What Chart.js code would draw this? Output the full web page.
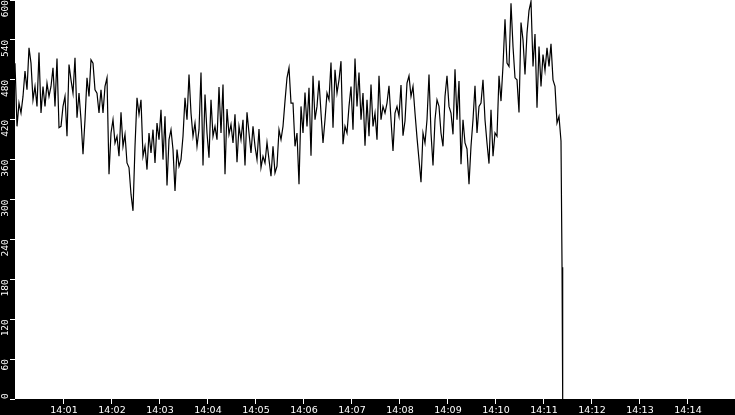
<!DOCTYPE html>
<html>
<head>
  <meta charset="UTF-8">
  <title>Rate 14:00 - 14:15</title>
  <script src="https://cdn.jsdelivr.net/npm/chart.js"></script>
  <style>
    html, body { margin: 0; padding: 0; background: #000; }
    #wrap { width: 735px; height: 415px; }
  </style>
</head>
<body>
  <div id="wrap"><canvas id="rateChart" width="735" height="415"></canvas></div>
  <script>
    // series: one sample every 2.5 s, starting 14:00:00
    const startHour = 14;
    const stepSeconds = 2.5;
    const rateValues = [
      505,410,445,430,455,493,465,528,505,450,
      470,440,521,430,470,440,475,455,470,498,
      440,512,408,410,440,455,395,503,480,460,
      513,423,460,420,368,420,483,455,510,505,
      465,460,430,465,430,470,483,338,400,420,
      385,395,365,431,380,398,355,348,308,283,
      380,453,428,450,365,380,345,400,370,405,
      355,415,390,435,360,425,321,390,405,375,
      313,375,350,360,395,453,420,488,430,395,
      415,380,405,
      491,351,458,400,363,450,395,410,390,469,
      400,473,338,436,398,413,385,428,356,410,
      390,420,351,431,400,370,410,380,360,406,
      348,365,355,386,360,335,380,340,350,405,
      390,410,448,483,498,445,
      445,380,400,323,440,400,461,410,468,366,
      486,420,440,479,430,385,420,460,450,506,
      408,495,460,480,508,383,410,400,440,470,
      405,512,440,491,420,460,381,450,395,473,
      410,430,390,486,420,440,430,445,
      471,420,373,430,440,425,472,396,418,475,
      486,455,470,430,393,360,326,400,385,420,
      488,400,351,420,450,440,400,380,455,486,
      440,430,398,496,420,478,353,420,385,376,
      323,380,420,471,400,440,445,
      480,420,385,354,435,365,400,395,486,448,
      501,571,505,500,595,530,483,480,431,566,
      540,488,550,584,598,500,549,438,530,470,
      518,494,528,500,534,480,470,415,425,388
    ];
    // the feed stops: last two readings, seconds after 14:00
    const tailSeconds = [683.8, 684.6];
    const tailValues = [198, 0];
    const xMinSeconds = 0;
    const xMaxSeconds = 900;
    const yTicks = [0, 60, 120, 180, 240, 300, 360, 420, 480, 540, 600];

    const points = rateValues.map((v, i) => ({ x: i * stepSeconds, y: v }))
      .concat(tailValues.map((v, i) => ({ x: tailSeconds[i], y: v })));

    function timeLabel(sec) {
      const m = Math.round(sec / 60);
      return startHour + ':' + String(m).padStart(2, '0');
    }

    // black frame, white plot, hand drawn tick labels
    const framePlugin = {
      id: 'frame',
      beforeDraw(chart) {
        const { ctx, chartArea: a } = chart;
        ctx.save();
        ctx.fillStyle = '#000';
        ctx.fillRect(0, 0, chart.width, chart.height);
        ctx.fillStyle = '#fff';
        ctx.fillRect(a.left, a.top, a.right - a.left, a.bottom - a.top);
        ctx.restore();
      },
      afterDraw(chart) {
        const { ctx, chartArea: a } = chart;
        const xs = chart.scales.x, ys = chart.scales.y;
        ctx.save();
        ctx.fillStyle = '#fff';
        ctx.font = '9.5px "DejaVu Sans"';
        ctx.textBaseline = 'middle';
        ctx.textAlign = 'center';
        xs.ticks.forEach(t => {
          ctx.fillText(timeLabel(t.value), xs.getPixelForValue(t.value) + 1, 410.5);
        });
        ctx.font = '9.5px "DejaVu Sans Mono"';
        ys.ticks.forEach(t => {
          const txt = String(t.value);
          const w = ctx.measureText(txt).width;
          let y = ys.getPixelForValue(t.value);
          // text runs upward and ends at its tick, kept inside the plot
          if (y + w > a.bottom) y = a.bottom - w;
          ctx.save();
          ctx.translate(5.5, y);
          ctx.rotate(-Math.PI / 2);
          ctx.textAlign = 'right';
          ctx.fillText(txt, 0, 0);
          ctx.restore();
        });
        ctx.restore();
      }
    };

    new Chart(document.getElementById('rateChart').getContext('2d'), {
      type: 'line',
      data: {
        datasets: [{
          data: points,
          borderColor: '#000',
          borderWidth: 1.2,
          pointRadius: 0,
          tension: 0,
          fill: false
        }]
      },
      options: {
        responsive: false,
        animation: false,
        layout: { padding: 0 },
        plugins: { legend: { display: false }, tooltip: { enabled: false } },
        scales: {
          x: {
            type: 'linear',
            min: xMinSeconds,
            max: xMaxSeconds,
            ticks: { display: false, stepSize: 60 },
            afterBuildTicks: s => { s.ticks = s.ticks.filter(t => t.value > xMinSeconds && t.value < xMaxSeconds); },
            afterFit: s => { s.height = 16; },
            grid: { drawOnChartArea: false, drawTicks: true, tickLength: 5, color: '#fff', lineWidth: 1 },
            border: { display: false }
          },
          y: {
            min: 0,
            max: 600,
            afterBuildTicks: s => { s.ticks = yTicks.map(v => ({ value: v })); },
            ticks: { display: false },
            afterFit: s => { s.width = 15; },
            grid: { drawOnChartArea: false, drawTicks: true, tickLength: 5, color: '#fff', lineWidth: 1 },
            border: { display: false }
          }
        }
      },
      plugins: [framePlugin]
    });
  </script>
</body>
</html>
